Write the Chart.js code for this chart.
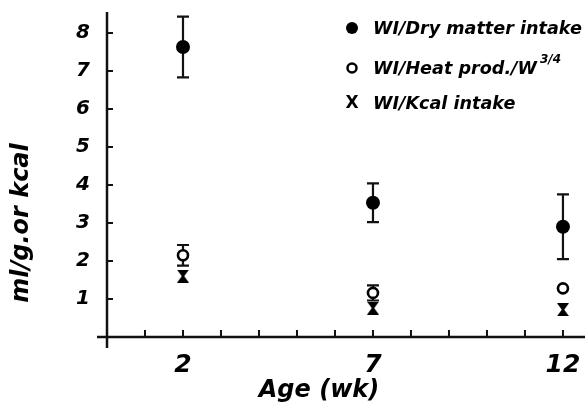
<!DOCTYPE html>
<html>
<head>
<meta charset="utf-8">
<script src="https://cdn.jsdelivr.net/npm/chart.js@4"></script>
<style>
  html, body { margin: 0; padding: 0; background: #fff; }
  #wrap { width: 585px; height: 405px; }
</style>
</head>
<body>
<div id="wrap"><canvas id="myChart" width="585" height="405"></canvas></div>
<script>
// data
var weeks = [2, 7, 12];
var dryMatter = [7.63, 3.53, 2.9];
var dryMatterErr = [0.8, 0.51, 0.85];
var heatProd = [2.15, 1.16, 1.28];
var heatProdErr = [0.27, 0.2, 0];
var kcalIntake = [1.6, 0.76, 0.72];
var kcalIntakeErr = [0, 0, 0];
var xLabels = [2, 7, 12];
var yLabels = [1, 2, 3, 4, 5, 6, 7, 8];
var xMinorTicks = [1, 2, 3, 4, 5, 6, 7, 8, 9, 10, 11, 12];

var FONT = "'DejaVu Sans', sans-serif";

function toPoints(ys) {
  var pts = [];
  for (var i = 0; i < weeks.length; i++) pts.push({ x: weeks[i], y: ys[i] });
  return pts;
}

// hourglass marker for the Kcal series
function hourglass() {
  var c = document.createElement('canvas');
  c.width = 12; c.height = 13;
  var g = c.getContext('2d');
  g.fillStyle = '#000';
  g.beginPath();
  g.moveTo(0, 0); g.lineTo(12, 0); g.lineTo(7.2, 6.5); g.lineTo(12, 13);
  g.lineTo(0, 13); g.lineTo(4.8, 6.5); g.closePath();
  g.fill();
  return c;
}

var errs = [dryMatterErr, heatProdErr, kcalIntakeErr];

// axes, ticks, error bars
var axesPlugin = {
  id: 'axesPlugin',
  beforeDatasetsDraw: function(chart) {
    var ctx = chart.ctx, xs = chart.scales.x, ys = chart.scales.y, a = chart.chartArea;
    var x0 = xs.getPixelForValue(0), y0 = ys.getPixelForValue(0);
    ctx.save();
    ctx.strokeStyle = '#111';
    ctx.lineWidth = 2.5;
    ctx.beginPath();
    ctx.moveTo(x0, a.top); ctx.lineTo(x0, y0 + 11);
    ctx.moveTo(x0 - 10, y0); ctx.lineTo(a.right, y0);
    ctx.stroke();
    ctx.lineWidth = 2;
    ctx.beginPath();
    yLabels.forEach(function(v) {
      var p = ys.getPixelForValue(v);
      ctx.moveTo(x0, p); ctx.lineTo(x0 + 6, p);
    });
    xMinorTicks.forEach(function(v) {
      var p = xs.getPixelForValue(v);
      ctx.moveTo(p, y0); ctx.lineTo(p, y0 - 7);
    });
    ctx.stroke();

    // error bars
    ctx.lineWidth = 2.2;
    chart.data.datasets.forEach(function(ds, i) {
      ds.data.forEach(function(pt, j) {
        var e = errs[i][j];
        if (!e) return;
        var px = xs.getPixelForValue(pt.x);
        var top = ys.getPixelForValue(pt.y + e), bot = ys.getPixelForValue(pt.y - e);
        ctx.beginPath();
        ctx.moveTo(px, top); ctx.lineTo(px, bot);
        ctx.moveTo(px - 6, top); ctx.lineTo(px + 6, top);
        ctx.moveTo(px - 6, bot); ctx.lineTo(px + 6, bot);
        ctx.stroke();
      });
    });
    ctx.restore();
  },
  afterDraw: function(chart) {
    var ctx = chart.ctx;
    ctx.save();
    ctx.fillStyle = '#000';
    ctx.strokeStyle = '#000';

    // axis titles
    ctx.font = 'italic bold 24px ' + FONT;
    ctx.textAlign = 'center';
    ctx.textBaseline = 'alphabetic';
    ctx.fillText('Age (wk)', 319, 397);
    ctx.save();
    ctx.translate(28, 223);
    ctx.rotate(-Math.PI / 2);
    ctx.fillText('ml/g.or kcal', 0, 0);
    ctx.restore();

    // legend
    var lx = 352, tx = 373;
    var rows = [28, 68, 103];
    ctx.beginPath();
    ctx.arc(lx, rows[0], 6, 0, Math.PI * 2);
    ctx.fill();
    ctx.lineWidth = 2.5;
    ctx.beginPath();
    ctx.arc(lx, rows[1], 4.5, 0, Math.PI * 2);
    ctx.stroke();
    ctx.font = 'bold 17px ' + FONT;
    ctx.textAlign = 'center';
    ctx.textBaseline = 'middle';
    ctx.fillText('X', lx, rows[2] + 1);

    ctx.textAlign = 'left';
    ctx.font = 'italic bold 17.6px ' + FONT;
    ctx.fillText('WI/Dry matter intake', tx, rows[0] + 1);
    var t2 = 'WI/Heat prod./W';
    ctx.fillText(t2, tx, rows[1] + 1);
    var w2 = ctx.measureText(t2).width;
    ctx.fillText('WI/Kcal intake', tx, rows[2] + 1);
    ctx.font = 'italic bold 12px ' + FONT;
    ctx.fillText('3/4', tx + w2 + 3, rows[1] - 8);
    ctx.restore();
  }
};

var ctx = document.getElementById('myChart').getContext('2d');
var myChart = new Chart(ctx, {
  type: 'scatter',
  data: {
    datasets: [
      { label: 'WI/Dry matter intake', data: toPoints(dryMatter),
        pointStyle: 'circle', pointRadius: 7, pointHoverRadius: 7,
        backgroundColor: '#000', borderColor: '#000', borderWidth: 0 },
      { label: 'WI/Heat prod./W3/4', data: toPoints(heatProd),
        pointStyle: 'circle', pointRadius: 5, pointHoverRadius: 5,
        backgroundColor: '#fff', borderColor: '#000', borderWidth: 2.6 },
      { label: 'WI/Kcal intake', data: toPoints(kcalIntake),
        pointStyle: hourglass(), pointRadius: 6,
        backgroundColor: '#000', borderColor: '#000' }
    ]
  },
  options: {
    responsive: false,
    animation: false,
    clip: false,
    layout: { autoPadding: false, padding: { top: 12, right: 0, left: 0, bottom: 0 } },
    plugins: { legend: { display: false }, tooltip: { enabled: false } },
    scales: {
      x: {
        type: 'linear', min: 0, max: 12.58,
        grid: { display: false }, border: { display: false },
        afterFit: function(s) { s.height = 68; s.paddingRight = 0; },
        ticks: {
          stepSize: 1, autoSkip: false, maxRotation: 0, padding: 5, includeBounds: false,
          color: '#000', font: { family: FONT, size: 25, style: 'italic', weight: 'bold' },
          callback: function(v) { return xLabels.indexOf(v) >= 0 ? String(v) : ''; }
        }
      },
      y: {
        type: 'linear', min: 0, max: 8.55,
        grid: { display: false }, border: { display: false },
        afterFit: function(s) { s.width = 107; s.paddingTop = 0; },
        ticks: {
          stepSize: 1, autoSkip: false, padding: 9, includeBounds: false,
          color: '#000', font: { family: FONT, size: 20, style: 'italic', weight: 'bold' },
          callback: function(v) { return yLabels.indexOf(v) >= 0 ? String(v) : ''; }
        }
      }
    }
  },
  plugins: [axesPlugin]
});
</script>
</body>
</html>
